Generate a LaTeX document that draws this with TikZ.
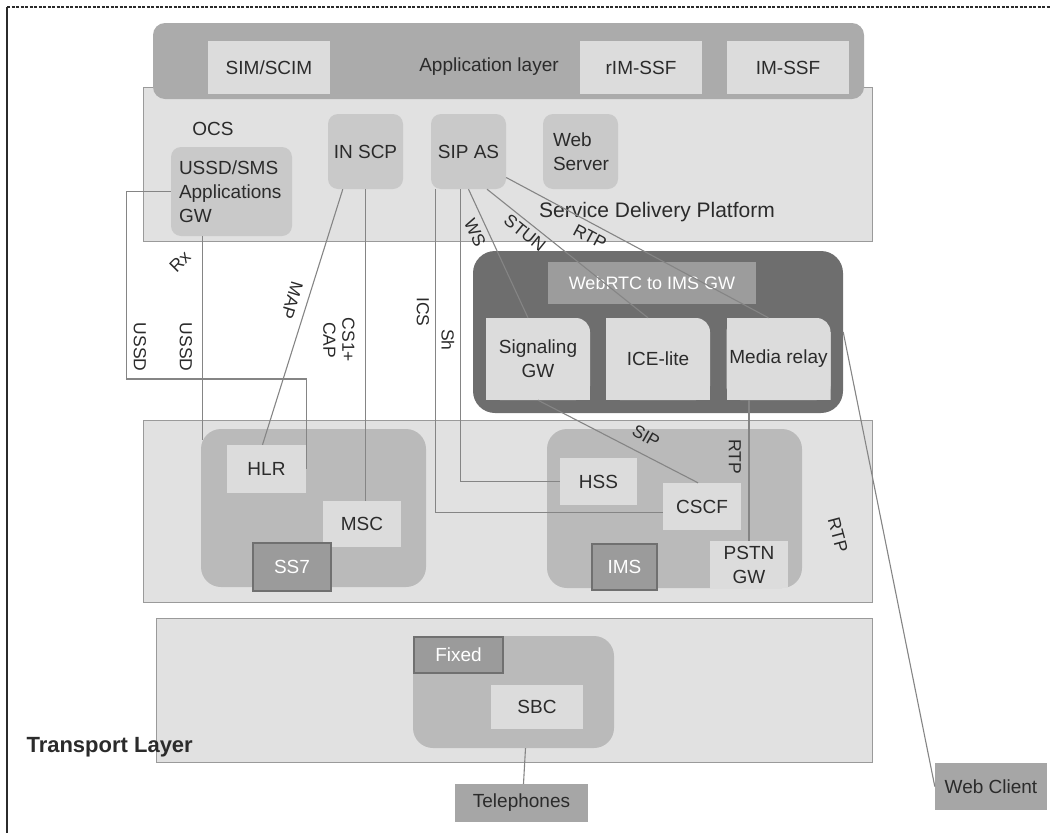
\documentclass[tikz,border=0pt]{standalone}
\usepackage{fontspec}
\setmainfont{Liberation Sans}
\usepackage{xcolor}
\definecolor{cbar}     {HTML}{ABABAB}
\definecolor{clayer}   {HTML}{E1E1E1}
\definecolor{cedge}    {HTML}{9A9A9A}
\definecolor{csoft}    {HTML}{C9C9C9}
\definecolor{cpale}    {HTML}{DCDCDC}
\definecolor{cgroup}   {HTML}{BABABA}
\definecolor{cmark}    {HTML}{9B9B9B}
\definecolor{cmarkedge}{HTML}{707070}
\definecolor{cwrtc}    {HTML}{6E6E6E}
\definecolor{cwgw}     {HTML}{9C9C9C}
\definecolor{cterm}    {HTML}{A6A6A6}
\definecolor{cline}    {HTML}{858585}
\definecolor{ctext}    {HTML}{2B2B2B}

\begin{document}
\begin{tikzpicture}[
  x=1pt, y=-1pt,
  every node/.style = {text=ctext, font=\fontsize{19}{24}\selectfont, align=center},
  frame/.style = {draw=ctext, line width=1.4pt},
  layer/.style = {draw=cedge, fill=clayer, line width=1pt},
  bar/.style   = {fill=cbar, rounded corners=12pt,
                  minimum width=711pt, minimum height=76pt},
  pale/.style  = {fill=cpale, inner sep=2pt},
  soft/.style  = {fill=csoft, rounded corners=10pt, inner sep=2pt},
  sq/.style    = {minimum width=75pt, minimum height=75pt},
  group/.style = {fill=cgroup, rounded corners=20pt},
  tagbox/.style = {fill=cmark, draw=cmarkedge, line width=1.8pt, text=white},
  term/.style  = {fill=cterm, inner sep=2pt},
  wrtc/.style  = {fill=cwrtc, rounded corners=22pt,
                  minimum width=370pt, minimum height=162pt},
  wgw/.style   = {fill=cwgw, text=white, font=\fontsize{18}{22}\selectfont,
                  minimum width=208pt, minimum height=42pt},
  tab/.style   = {fill=cwrtc, inner sep=2pt,
                  minimum width=104pt, minimum height=82pt,
                  path picture={
                    \fill[cpale, rounded corners=14pt]
                      (path picture bounding box.south west) rectangle (path picture bounding box.north east);
                    \fill[cpale]
                      (path picture bounding box.south west) rectangle ([xshift=-14pt]path picture bounding box.north east);
                    \fill[cpale]
                      (path picture bounding box.south west) rectangle ([yshift=-14pt]path picture bounding box.north east);
                  }},
  link/.style  = {draw=cline, line width=1.1pt},
  lbl/.style   = {font=\fontsize{17.5}{19}\selectfont, inner sep=1pt}
]
\useasboundingbox (0,0) rectangle (1050,833);

%% ── Frame ─────────────────────────────────────────────────────────────────
\coordinate (fbl) at (7,833);
\coordinate (ftl) at (7,7);
\coordinate (ftr) at (1050,7);
\draw[frame] (fbl) -- (ftl);
\draw[frame, dash pattern=on 3pt off 1.5pt] (ftl) -- (ftr);

%% ── Service delivery / application layer ──────────────────────────────────
\node[layer, minimum width=729pt, minimum height=154pt] (sdp) at (507.5,164) {};
\node[bar] (app) at (508.5,61) {};
\node[pale, minimum width=122pt, minimum height=53pt] (sim)   at (269,67.5) {SIM/SCIM};
\node[pale, minimum width=122pt, minimum height=53pt] (rim)   at (641,67.5) {rIM-SSF};
\node[pale, minimum width=122pt, minimum height=53pt] (imssf) at (788,67.5) {IM-SSF};
\node (applbl) at (489,67) {Application layer};

\node (ocs) at (213,129) {OCS};
\node[soft, minimum width=121pt, minimum height=89pt, text width=105pt,
      align=left, inner xsep=8pt] (ussd) at (231.5,191.5) {USSD/SMS\\Applications\\GW};
\node[soft, sq] (inscp) at (365.5,151.5) {IN SCP};
\node[soft, sq] (sipas) at (468.5,151.5) {SIP AS};
\node[soft, sq, text width=55pt, align=left, inner xsep=10pt] (websrv) at (580.5,151.5) {Web\\Server};
\node[font=\fontsize{21}{24}\selectfont] (sdplbl) at (657,212) {Service Delivery Platform};

%% ── WebRTC gateway ────────────────────────────────────────────────────────
\node[wrtc] (webrtc) at (658,332) {};
\node[wgw]  (w2i)    at (652,283) {WebRTC to IMS GW};
\node[tab]  (sig)    at (538,359) {Signaling\\GW};
\node[tab]  (ice)    at (658,359) {ICE-lite};
\node[tab]  (media)  at (778.5,359) {Media relay};

%% ── Core layer ────────────────────────────────────────────────────────────
\node[layer, minimum width=729pt, minimum height=182pt] (core) at (507.5,511) {};
\node[group, minimum width=225pt, minimum height=158pt] (ssgrp) at (313.5,508) {};
\node[pale, minimum width=79pt, minimum height=48pt] (hlr) at (266.5,469) {HLR};
\node[pale, minimum width=78pt, minimum height=46pt] (msc) at (362,524) {MSC};
\node[tagbox, minimum width=78pt, minimum height=48pt] (ss7) at (292,567) {SS7};

\node[group, minimum width=255pt, minimum height=159pt] (imsgrp) at (674.5,508.5) {};
\node[pale, minimum width=77pt, minimum height=47pt] (hss)  at (598.5,481.5) {HSS};
\node[pale, minimum width=78pt, minimum height=47pt] (cscf) at (702,506.5) {CSCF};
\node[tagbox, minimum width=65pt, minimum height=46pt] (ims)  at (624.5,567) {IMS};
\node[pale, minimum width=78pt, minimum height=47pt] (pstn) at (749,564.5) {PSTN\\GW};

%% ── Transport layer ───────────────────────────────────────────────────────
\node[layer, minimum width=716pt, minimum height=144pt] (trans) at (514,690) {};
\node[group, minimum width=201pt, minimum height=112pt] (fixgrp) at (513.5,692) {};
\node[tagbox, minimum width=89pt, minimum height=36pt] (fixed) at (458.5,655) {Fixed};
\node[pale, minimum width=92pt, minimum height=44pt] (sbc) at (537,707) {SBC};
\node[font=\fontsize{22}{24}\selectfont\bfseries, anchor=west] (translbl) at (23,747) {Transport Layer};

\node[term, minimum width=133pt, minimum height=38pt] (tel)   at (521.5,803) {Telephones};
\node[term, minimum width=112pt, minimum height=47pt] (webcl) at (991,786.5) {Web Client};

%% ── Links ─────────────────────────────────────────────────────────────────
% USSD/SMS GW → HLR (round the left side)
\draw[link] (ussd.west) -- ++(-44,0) |- (hlr.east |- 0,379) -- (hlr.east);
% USSD/SMS GW → SS7 group
\draw[link] ([xshift=32pt]ussd.south west) -- ([xshift=32pt]ussd.south west |- 0,440);
% IN SCP → HLR, IN SCP → MSC
\draw[link] ([xshift=15pt]inscp.south west) -- ([xshift=-4pt]hlr.north);
\draw[link] (inscp.south) -- (inscp.south |- msc.north);
% SIP AS → CSCF, SIP AS → HSS
\draw[link] ([xshift=5pt]sipas.south west) |- ([yshift=-6pt]cscf.west);
\draw[link] ([xshift=30pt]sipas.south west) |- (hss.west);
% SIP AS → WebRTC gateway
\draw[link] (sipas.south) -- ([xshift=-10pt]sig.north);
\draw[link] ([xshift=18.5pt]sipas.south) -- ([xshift=-10pt]ice.north);
\draw[link] ([yshift=-26pt]sipas.east) -- ([xshift=-10pt]media.north);
% WebRTC gateway → IMS
\draw[link] (sig.south) -- ([xshift=-4pt]cscf.north);
\draw[link] (pstn.north |- media.south) -- (pstn.north);
% WebRTC gateway → Web Client, Fixed → Telephones
\draw[link] (webrtc.east) -- (webcl.west);
\draw[link] ([xshift=12pt]fixgrp.south) -- ([xshift=2pt]tel.north);

%% ── Link labels ───────────────────────────────────────────────────────────
\node[lbl, rotate=-90] (ussdA) at (140,347) {USSD};
\node[lbl, rotate=-90] (ussdB) at (186,347) {USSD};
\node[lbl, rotate=45]  (rx)    at (180,262) {Rx};
\node[lbl, rotate=-107] (map)  at (292,300) {MAP};
\node[lbl, rotate=-90, align=center] (cap) at (339,340) {CS1+\\CAP};
\node[lbl, rotate=-90] (ics)   at (423,312) {ICS};
\node[lbl, rotate=-90] (sh)    at (448,340) {Sh};
\node[lbl, rotate=-65] (ws)    at (475,233) {WS};
\node[lbl, rotate=-39] (stun)  at (525,233) {STUN};
\node[lbl, rotate=-28] (rtpA)  at (590,237) {RTP};
\node[lbl, rotate=-30] (sip)   at (646,436) {SIP};
\node[lbl, rotate=-90] (rtpB)  at (735,457) {RTP};
\node[lbl, rotate=-75] (rtpC)  at (838,535) {RTP};

\end{tikzpicture}
\end{document}
